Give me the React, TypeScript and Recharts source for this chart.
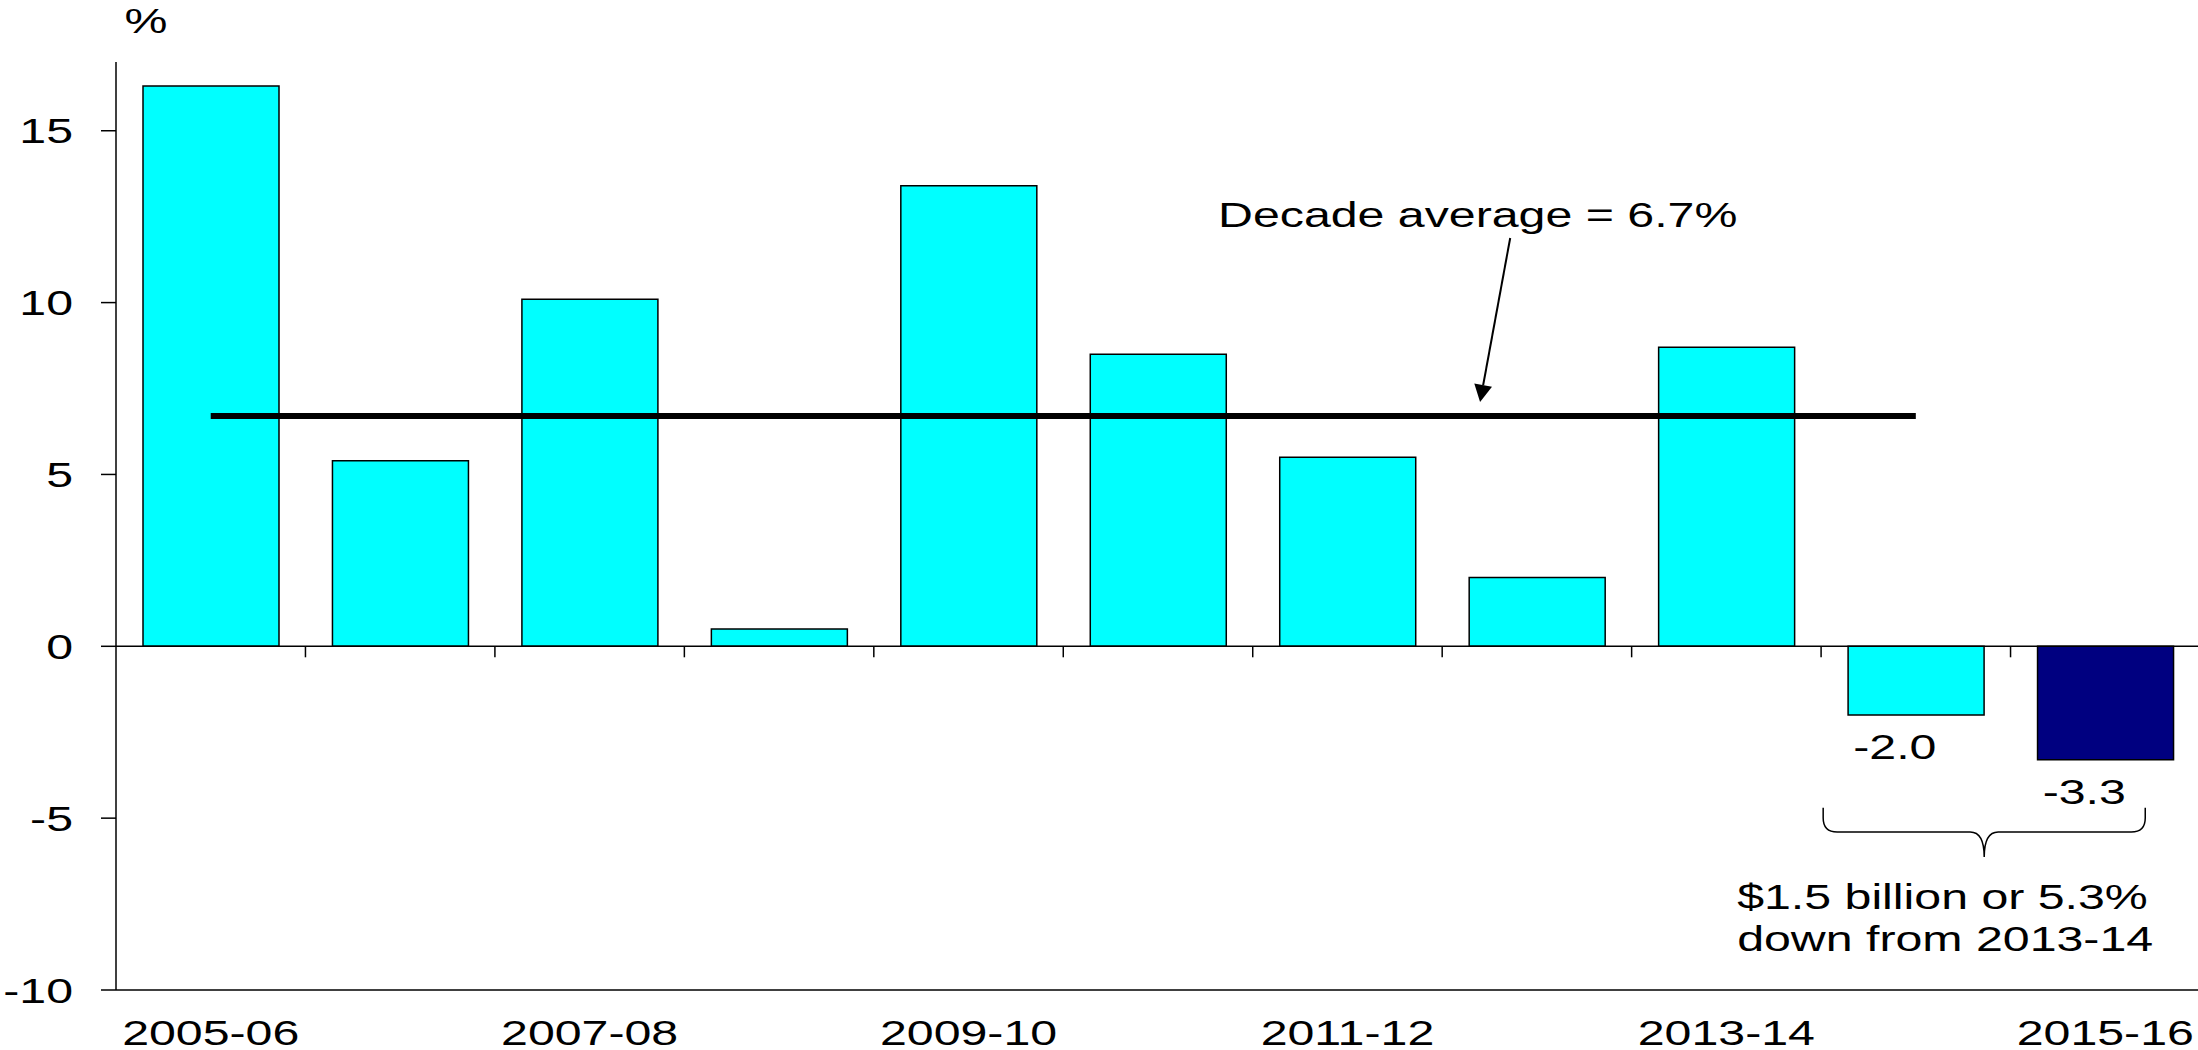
import React from 'react';
import {
  ComposedChart,
  Bar,
  Line,
  XAxis,
  YAxis,
  Cell,
  ReferenceLine,
  ReferenceDot,
  ReferenceArea,
} from 'recharts';

// Annual growth, per cent
const years = [
  '2005-06', '2006-07', '2007-08', '2008-09', '2009-10', '2010-11',
  '2011-12', '2012-13', '2013-14', '2014-15', '2015-16',
];
const growth = [16.3, 5.4, 10.1, 0.5, 13.4, 8.5, 5.5, 2.0, 8.7, -2.0, -3.3];

// Average line spans the first ten years
const decadeAverage = 6.7;
const averageYears = 10;

// The latest year is highlighted, the last two carry value labels
const highlightIndex = 10;
const labelledIndexes = [9, 10];

const yTicks = [-10, -5, 0, 5, 10, 15];
const yDomain: [number, number] = [-10, 17];

const unitText = '%';
const averageText = 'Decade average = 6.7%';
const braceLines = ['$1.5 billion or 5.3%', 'down from 2013-14'];

// pos: position of each year on a continuous overlay axis (one unit per year)
const data = years.map((year, i) => ({
  year,
  pos: i + 0.5,
  growth: growth[i],
  avg: i < averageYears ? decadeAverage : null,
}));

// Anchors for annotations on the continuous overlay axis
const overlayDomain: [number, number] = [0, years.length];
const unitAnchor = { x: 0.158, y: 17.84 };
const averageTextAnchor = { x: 5.817, y: 12.2 };
const arrowFrom = { x: 7.359, y: 11.88 };
const arrowTo = { x: 7.2, y: 7.11 };
const brace = { x1: 9.011, x2: 10.711, y1: -4.7, y2: -6.13 };
const braceTextAnchor = { x: 8.557, y: -7.64 };

const CYAN = '#00FFFF';
const NAVY = '#000080';
const FONT = '"Liberation Sans", Arial, sans-serif';
const FONT_SIZE = 35;
const STRETCH = 1.38;

function StretchText({ x, y, anchor = 'middle', children }: any) {
  return (
    <text
      transform={`translate(${x} ${y}) scale(${STRETCH} 1)`}
      textAnchor={anchor}
      fontFamily={FONT}
      fontSize={FONT_SIZE}
      fill="#000"
    >
      {children}
    </text>
  );
}

const YTick = ({ x, y, payload }: any) => (
  <StretchText x={x} y={y + 12.5} anchor="end">
    {payload.value}
  </StretchText>
);

const XTick = ({ x, y, payload }: any) => (
  <StretchText x={x} y={y + 55}>
    {payload.value}
  </StretchText>
);

const Arrow = (props: any) => {
  const { x1, y1, x2, y2 } = props;
  const dx = x2 - x1;
  const dy = y2 - y1;
  const len = Math.hypot(dx, dy) || 1;
  const ux = dx / len;
  const uy = dy / len;
  const head = 17;
  const half = 9;
  const bx = x2 - ux * head;
  const by = y2 - uy * head;
  const px = -uy;
  const py = ux;
  return (
    <g>
      <line x1={x1} y1={y1} x2={bx} y2={by} stroke="#000" strokeWidth={2} />
      <polygon
        points={`${x2},${y2} ${bx + px * half},${by + py * half} ${bx - px * half},${by - py * half}`}
        fill="#000"
      />
    </g>
  );
};

const Brace = (props: any) => {
  const { x, y, width, height } = props;
  const left = x;
  const right = x + width;
  const top = y;
  const bottom = y + height;
  const mid = top + height * 0.49;
  const c = x + width / 2;
  const r = 14;
  const d = [
    `M ${left} ${top}`,
    `L ${left} ${mid - r}`,
    `Q ${left} ${mid} ${left + r} ${mid}`,
    `L ${c - r} ${mid}`,
    `Q ${c} ${mid} ${c} ${bottom}`,
    `Q ${c} ${mid} ${c + r} ${mid}`,
    `L ${right - r} ${mid}`,
    `Q ${right} ${mid} ${right} ${mid - r}`,
    `L ${right} ${top}`,
  ].join(' ');
  return <path d={d} fill="none" stroke="#000" strokeWidth={1.5} />;
};

const frame = { stroke: '#000', strokeWidth: 1.5 };

export default function App() {
  return (
    <div style={{ position: 'absolute', left: 0, top: 0, width: 2198, height: 1050, overflow: 'hidden', background: '#fff' }}>
      <ComposedChart
        width={2204}
        height={1050}
        data={data}
        margin={{ top: 62, right: 4, bottom: 0, left: 0 }}
      >
        <XAxis
          dataKey="year"
          interval={1}
          tickSize={0}
          tickMargin={0}
          tickLine={false}
          axisLine={frame}
          height={60}
          tick={<XTick />}
        />
        <XAxis
          xAxisId="top"
          dataKey="year"
          orientation="top"
          height={0}
          tick={false}
          tickLine={false}
          axisLine={frame}
        />
        <XAxis
          xAxisId="num"
          dataKey="pos"
          type="number"
          domain={overlayDomain}
          allowDataOverflow
          hide
        />
        <YAxis
          domain={yDomain}
          ticks={yTicks}
          allowDataOverflow
          width={116}
          tickSize={15}
          tickMargin={28}
          axisLine={frame}
          tickLine={frame}
          tick={<YTick />}
        />

        <Bar dataKey="growth" barSize={136} stroke="#000" strokeWidth={1.5} isAnimationActive={false}>
          {data.map((d, i) => (
            <Cell key={d.year} fill={i === highlightIndex ? NAVY : CYAN} />
          ))}
        </Bar>

        <ReferenceLine y={0} stroke="#000" strokeWidth={1.5} />
        {years.slice(0, years.length - 1).map((y, i) => (
          <ReferenceLine
            key={`tick-${y}`}
            xAxisId="num"
            segment={[{ x: i + 1, y: 0 }, { x: i + 1, y: -0.32 }]}
            stroke="#000"
            strokeWidth={1.5}
          />
        ))}

        <Line
          dataKey="avg"
          stroke="#000"
          strokeWidth={6}
          dot={false}
          activeDot={false}
          isAnimationActive={false}
        />

        {labelledIndexes.map((i) => (
          <ReferenceDot
            key={`label-${years[i]}`}
            x={years[i]}
            y={growth[i]}
            ifOverflow="visible"
            shape={(p: any) => (
              <StretchText x={p.cx - 21} y={p.cy + 44}>
                {growth[i].toFixed(1)}
              </StretchText>
            )}
          />
        ))}

        <ReferenceDot
          xAxisId="num"
          x={unitAnchor.x}
          y={unitAnchor.y}
          ifOverflow="visible"
          shape={(p: any) => <StretchText x={p.cx} y={p.cy}>{unitText}</StretchText>}
        />

        <ReferenceDot
          xAxisId="num"
          x={averageTextAnchor.x}
          y={averageTextAnchor.y}
          ifOverflow="visible"
          shape={(p: any) => (
            <StretchText x={p.cx} y={p.cy} anchor="start">
              {averageText}
            </StretchText>
          )}
        />
        <ReferenceLine
          xAxisId="num"
          segment={[arrowFrom, arrowTo]}
          ifOverflow="visible"
          shape={<Arrow />}
        />

        <ReferenceArea
          xAxisId="num"
          x1={brace.x1}
          x2={brace.x2}
          y1={brace.y1}
          y2={brace.y2}
          ifOverflow="visible"
          shape={<Brace />}
        />
        <ReferenceDot
          xAxisId="num"
          x={braceTextAnchor.x}
          y={braceTextAnchor.y}
          ifOverflow="visible"
          shape={(p: any) => (
            <g>
              {braceLines.map((line, k) => (
                <StretchText key={line} x={p.cx} y={p.cy + k * 42} anchor="start">
                  {line}
                </StretchText>
              ))}
            </g>
          )}
        />
      </ComposedChart>
    </div>
  );
}
